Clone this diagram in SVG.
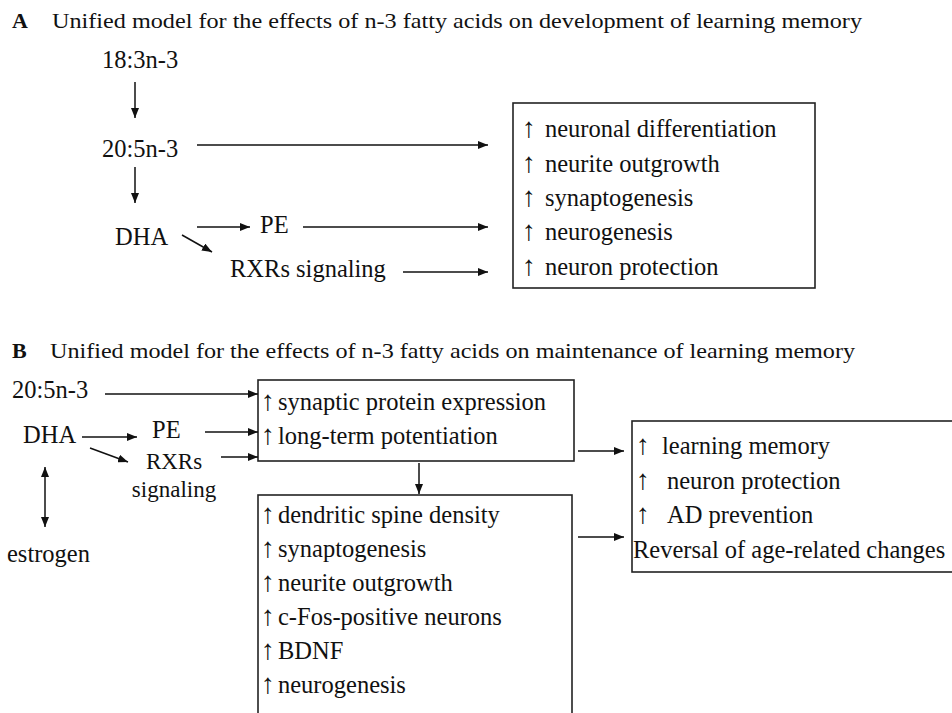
<svg xmlns="http://www.w3.org/2000/svg" width="952" height="713" viewBox="0 0 952 713">
<defs>
<style>
text{font-family:"Liberation Serif","Times New Roman",serif;fill:#111;}
.t{font-size:21px;}
.lt{font-size:22px;font-weight:bold;}
.b{font-size:24.5px;}
.s{font-size:23px;}
.ar{font-size:28px;}
.box{fill:none;stroke:#222;stroke-width:1.6;}
.c line{stroke:#111;stroke-width:1.5;}
</style>
<marker id="ah" viewBox="0 0 10 8" refX="10" refY="4" markerWidth="10" markerHeight="8" markerUnits="userSpaceOnUse" orient="auto-start-reverse">
<path d="M0,0 L10,4 L0,8 z" fill="#111"/>
</marker>
</defs>
<rect width="952" height="713" fill="#fff"/>

<g id="titleA"><text class="lt" x="12" y="28">A</text><text class="t" x="52" y="28" textLength="810" lengthAdjust="spacingAndGlyphs">Unified model for the effects of n-3 fatty acids on development of learning memory</text></g>
<g id="a-183"><text class="b" x="102" y="68">18:3n-3</text></g>
<g id="a-205"><text class="b" x="102" y="157">20:5n-3</text></g>
<g id="a-dha"><text class="b" x="115" y="245">DHA</text></g>
<g id="a-pe"><text class="b" x="260" y="233">PE</text></g>
<g id="a-rxr"><text class="b" x="230" y="277">RXRs signaling</text></g>
<g id="a-box">
<rect class="box" x="513" y="103" width="302" height="185"/>
<text class="b" y="137"><tspan class="ar" x="522">↑</tspan><tspan x="545">neuronal differentiation</tspan></text>
<text class="b" y="172"><tspan class="ar" x="522">↑</tspan><tspan x="545">neurite outgrowth</tspan></text>
<text class="b" y="206"><tspan class="ar" x="522">↑</tspan><tspan x="545">synaptogenesis</tspan></text>
<text class="b" y="240"><tspan class="ar" x="522">↑</tspan><tspan x="545">neurogenesis</tspan></text>
<text class="b" y="275"><tspan class="ar" x="522">↑</tspan><tspan x="545">neuron protection</tspan></text>
</g>

<g id="titleB"><text class="lt" x="12" y="358">B</text><text class="t" x="50" y="358" textLength="805" lengthAdjust="spacingAndGlyphs">Unified model for the effects of n-3 fatty acids on maintenance of learning memory</text></g>
<g id="b-205"><text class="b" x="12" y="398">20:5n-3</text></g>
<g id="b-dha"><text class="b" x="23" y="443">DHA</text></g>
<g id="b-pe"><text class="b" x="152" y="438">PE</text></g>
<g id="b-rxr"><text class="s" x="174" y="469" text-anchor="middle">RXRs</text><text class="s" x="174" y="497" text-anchor="middle">signaling</text></g>
<g id="b-estrogen"><text class="b" x="7" y="562">estrogen</text></g>
<g id="b-box1">
<rect class="box" x="258" y="380" width="316" height="81"/>
<text class="b" y="410"><tspan class="ar" x="261">↑</tspan><tspan x="278">synaptic protein expression</tspan></text>
<text class="b" y="444"><tspan class="ar" x="261">↑</tspan><tspan x="278">long-term potentiation</tspan></text>
</g>
<g id="b-box2">
<rect class="box" x="258" y="495" width="314" height="230"/>
<text class="b" y="523"><tspan class="ar" x="261">↑</tspan><tspan x="278">dendritic spine density</tspan></text>
<text class="b" y="557"><tspan class="ar" x="261">↑</tspan><tspan x="278">synaptogenesis</tspan></text>
<text class="b" y="591"><tspan class="ar" x="261">↑</tspan><tspan x="278">neurite outgrowth</tspan></text>
<text class="b" y="625"><tspan class="ar" x="261">↑</tspan><tspan x="278">c-Fos-positive neurons</tspan></text>
<text class="b" y="659"><tspan class="ar" x="261">↑</tspan><tspan x="278">BDNF</tspan></text>
<text class="b" y="693"><tspan class="ar" x="261">↑</tspan><tspan x="278">neurogenesis</tspan></text>
</g>
<g id="b-box3">
<rect class="box" x="632" y="421" width="330" height="151"/>
<text class="b" y="454"><tspan class="ar" x="636">↑</tspan><tspan x="662">learning memory</tspan></text>
<text class="b" y="489"><tspan class="ar" x="636">↑</tspan><tspan x="667">neuron protection</tspan></text>
<text class="b" y="523"><tspan class="ar" x="636">↑</tspan><tspan x="667">AD prevention</tspan></text>
<text class="b" x="633" y="558">Reversal of age-related changes</text>
</g>

<g id="connectors" class="c">
<line x1="135" y1="82" x2="135" y2="118" marker-end="url(#ah)"/>
<line x1="135" y1="167" x2="135" y2="203" marker-end="url(#ah)"/>
<line x1="197" y1="145" x2="488" y2="145" marker-end="url(#ah)"/>
<line x1="197" y1="227" x2="250" y2="227" marker-end="url(#ah)"/>
<line x1="303" y1="227" x2="488" y2="227" marker-end="url(#ah)"/>
<line x1="182" y1="235" x2="212" y2="252" marker-end="url(#ah)"/>
<line x1="403" y1="272" x2="488" y2="272" marker-end="url(#ah)"/>

<line x1="105" y1="394" x2="258" y2="394" marker-end="url(#ah)"/>
<line x1="82" y1="437" x2="137" y2="437" marker-end="url(#ah)"/>
<line x1="205" y1="432" x2="258" y2="432" marker-end="url(#ah)"/>
<line x1="90" y1="448" x2="128" y2="462" marker-end="url(#ah)"/>
<line x1="221" y1="457" x2="258" y2="457" marker-end="url(#ah)"/>
<line x1="45" y1="467" x2="45" y2="527" marker-start="url(#ah)" marker-end="url(#ah)"/>
<line x1="419" y1="463" x2="419" y2="494" marker-end="url(#ah)"/>
<line x1="578" y1="451" x2="624" y2="451" marker-end="url(#ah)"/>
<line x1="578" y1="537" x2="624" y2="537" marker-end="url(#ah)"/>
</g>
</svg>
